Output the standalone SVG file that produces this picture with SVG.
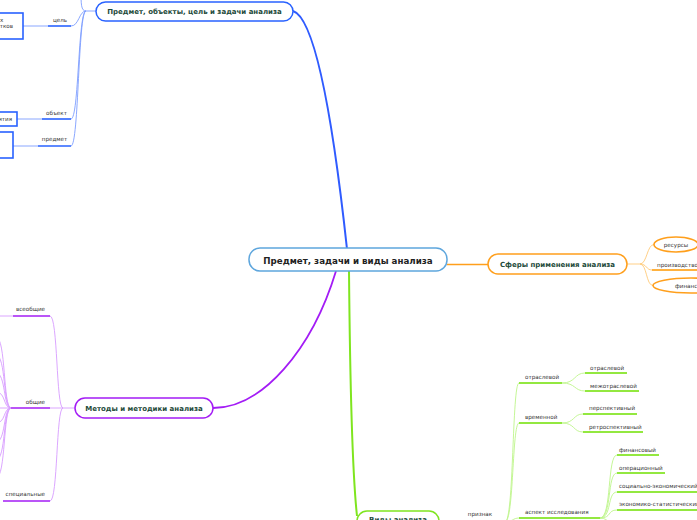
<svg xmlns="http://www.w3.org/2000/svg" width="697" height="520" viewBox="0 0 697 520">
<style>
.lbl{font-family:"DejaVu Sans",sans-serif;font-size:5.6px;fill:#333}
.nt{font-family:"DejaVu Sans",sans-serif;font-size:7px;font-weight:bold;fill:#1d4a3a}
.ct{font-family:"DejaVu Sans",sans-serif;font-size:8.7px;font-weight:bold;fill:#222}
.bl{fill:none;stroke:#7d9dff;stroke-width:0.9}
.bu{fill:none;stroke:#2962ff;stroke-width:1.6}
.ol{fill:none;stroke:#ffc978;stroke-width:0.9}
.ou{fill:none;stroke:#ff9800;stroke-width:1.6}
.gl{fill:none;stroke:#bdf58a;stroke-width:0.9}
.gu{fill:none;stroke:#6fe000;stroke-width:1.6}
.pl{fill:none;stroke:#d79cff;stroke-width:0.9}
.pu{fill:none;stroke:#a31cf5;stroke-width:1.6}
</style>
<rect width="697" height="520" fill="#fff"/>
<g id="connectors">
<path d="M347,249 C333,120 315,18 293,11" fill="none" stroke="#2f5bff" stroke-width="2"/>
<path d="M447,264.5 L488,264.5" fill="none" stroke="#ff9f1c" stroke-width="1.3"/>
<path d="M349,271 C350,380 352,470 357,516" fill="none" stroke="#7fe51f" stroke-width="2"/>
<path d="M336,271 C312,350 262,408 213,408" fill="none" stroke="#a31cf5" stroke-width="1.8"/>
<path class="bl" d="M96,11 L86,11 C79,11 79,26 71,26"/>
<path class="bl" d="M86,11 C78,11 79,119 71,119"/>
<path class="bl" d="M86,11 C78,11 79,146 71,146"/>
<path class="bl" d="M86,11 C81,11 81,4 81,-10"/>
<path class="bu" d="M48,26 L71,26"/><path class="bl" d="M23,26 L48,26"/>
<path class="bu" d="M42,119 L71,119"/><path class="bl" d="M17,119 L42,119"/>
<path class="bu" d="M38,146 L71,146"/><path class="bl" d="M13,146 L38,146"/>
<path class="ol" d="M627,264 L640,264 C647,264 647,244.5 654,244.5"/>
<path class="ol" d="M640,264 C647,264 646,270 652,270"/>
<path class="ol" d="M640,264 C647,264 646,285.5 653,285.5"/>
<path class="ou" d="M652,270 L697,270"/>
<path class="gl" d="M439,522 L505,522"/>
<path class="gl" d="M505,522 C514,522 512,383 519,383"/>
<path class="gl" d="M505,522 C514,522 512,423 519,423"/>
<path class="gl" d="M505,522 C512,522 513,518 519,518"/>
<path class="gu" d="M519,383 L562,383"/>
<path class="gu" d="M519,423 L562,423"/>
<path class="gu" d="M519,518 L600,518"/>
<path class="gl" d="M562,383 C576,383 574,373 585,373"/>
<path class="gl" d="M562,383 C576,383 574,391 585,391"/>
<path class="gu" d="M585,373 L627,373"/>
<path class="gu" d="M585,391 L639,391"/>
<path class="gl" d="M562,423 C575,423 573,414 583,414"/>
<path class="gl" d="M562,423 C575,423 573,432 583,432"/>
<path class="gu" d="M583,414 L637,414"/>
<path class="gu" d="M583,432 L643,432"/>
<path class="gl" d="M600,518 C612,518 607,455 617,455"/>
<path class="gl" d="M600,518 C612,518 607,473 617,473"/>
<path class="gl" d="M600,518 C612,518 607,492 617,492"/>
<path class="gl" d="M600,518 C612,518 607,510 617,510"/>
<path class="gl" d="M600,518 C610,518 610,528 617,528"/>
<path class="gu" d="M617,455 L659,455"/>
<path class="gu" d="M617,473 L665,473"/>
<path class="gu" d="M617,492 L697,492"/>
<path class="gu" d="M617,510 L697,510"/>
<path class="pl" d="M75,408 L63,408"/>
<path class="pl" d="M63,408 C56,408 58,316 50,316"/>
<path class="pl" d="M63,408 L50,408"/>
<path class="pl" d="M63,408 C56,408 58,501 50,501"/>
<path class="pu" d="M13,316 L50,316"/><path class="pl" d="M0,316 L13,316"/>
<path class="pu" d="M11,408 L50,408"/><path class="pl" d="M0,408 L11,408"/>
<path class="pu" d="M3,501 L50,501"/>
<path class="pl" d="M11,408 C3,408 6,337 -4,337"/>
<path class="pl" d="M11,408 C3,408 6,355 -4,355"/>
<path class="pl" d="M11,408 C3,408 6,373 -4,373"/>
<path class="pl" d="M11,408 C3,408 6,392 -4,392"/>
<path class="pl" d="M11,408 C3,408 6,423 -4,423"/>
<path class="pl" d="M11,408 C3,408 6,442 -4,442"/>
<path class="pl" d="M11,408 C3,408 6,460 -4,460"/>
<path class="pl" d="M11,408 C3,408 6,478 -4,478"/>
</g>
<g id="central">
<rect x="249" y="248" width="198" height="23" rx="11" fill="#fff" stroke="#5ea6dd" stroke-width="1.5"/>
<text class="ct" x="348" y="264" text-anchor="middle">Предмет, задачи и виды анализа</text>
</g>
<g id="n-subject">
<rect x="96" y="2" width="197" height="19" rx="9.5" fill="#fff" stroke="#2962ff" stroke-width="1.5"/>
<text class="nt" x="194.5" y="14" text-anchor="middle">Предмет, объекты, цель и задачи  анализа</text>
</g>
<g id="n-goal"><text class="lbl" x="60" y="22" text-anchor="middle">цель</text>
<rect x="-5" y="13" width="28" height="26" fill="#fff" stroke="#2962ff" stroke-width="1.6"/>
<text class="lbl" x="0" y="22">х</text><text class="lbl" x="13" y="28" text-anchor="end">тков</text></g>
<g id="n-object"><text class="lbl" x="56.5" y="115" text-anchor="middle">объект</text>
<rect x="-5" y="112" width="22" height="14" fill="#fff" stroke="#2962ff" stroke-width="1.6"/>
<text class="lbl" x="12" y="121" text-anchor="end">ятия</text></g>
<g id="n-predmet"><text class="lbl" x="54.5" y="141" text-anchor="middle">предмет</text>
<rect x="-5" y="132" width="18" height="26" fill="#fff" stroke="#2962ff" stroke-width="1.6"/></g>
<g id="n-spheres">
<rect x="488" y="254" width="139" height="20" rx="10" fill="#fff" stroke="#ff9f1c" stroke-width="1.5"/>
<text class="nt" x="557.5" y="266.5" text-anchor="middle">Сферы применения анализа</text>
</g>
<g id="n-resources"><ellipse cx="676" cy="244.5" rx="22" ry="7.5" fill="#fff" stroke="#ff9f1c" stroke-width="1.6"/>
<text class="lbl" x="676" y="246.5" text-anchor="middle">ресурсы</text></g>
<g id="n-production"><text class="lbl" x="657" y="266.5">производство</text></g>
<g id="n-finance"><ellipse cx="691" cy="285.5" rx="38" ry="7.5" fill="#fff" stroke="#ff9f1c" stroke-width="1.6"/>
<text class="lbl" x="675" y="288">финансы</text></g>
<g id="n-types">
<rect x="357" y="511" width="82" height="24" rx="10" fill="#fff" stroke="#7fe51f" stroke-width="1.5"/>
<text class="nt" x="398" y="522.3" text-anchor="middle">Виды анализа</text>
</g>
<g id="n-sign"><text class="lbl" x="480" y="516" text-anchor="middle">признак</text></g>
<g id="n-branch"><text class="lbl" x="525" y="379">отраслевой</text></g>
<g id="n-branch1"><text class="lbl" x="590" y="369.5">отраслевой</text></g>
<g id="n-branch2"><text class="lbl" x="590" y="387.5">межотраслевой</text></g>
<g id="n-time"><text class="lbl" x="525" y="419">временной</text></g>
<g id="n-persp"><text class="lbl" x="589" y="410">перспективный</text></g>
<g id="n-retro"><text class="lbl" x="589" y="428.5">ретроспективный</text></g>
<g id="n-aspect"><text class="lbl" x="525" y="514">аспект исследования</text></g>
<g id="n-fin"><text class="lbl" x="619" y="451.5">финансовый</text></g>
<g id="n-oper"><text class="lbl" x="619" y="469.5">операционный</text></g>
<g id="n-soc"><text class="lbl" x="619" y="487.5">социально-экономический</text></g>
<g id="n-stat"><text class="lbl" x="619" y="505.5">экономико-статистический</text></g>
<g id="n-methods">
<rect x="75" y="398" width="138" height="20" rx="10" fill="#fff" stroke="#a31cf5" stroke-width="1.5"/>
<text class="nt" x="144" y="410.5" text-anchor="middle">Методы и методики анализа</text>
</g>
<g id="n-univ"><text class="lbl" x="45" y="311" text-anchor="end">всеобщие</text></g>
<g id="n-general"><text class="lbl" x="45" y="404" text-anchor="end">общие</text></g>
<g id="n-special"><text class="lbl" x="45" y="496" text-anchor="end">специальные</text></g>
</svg>
